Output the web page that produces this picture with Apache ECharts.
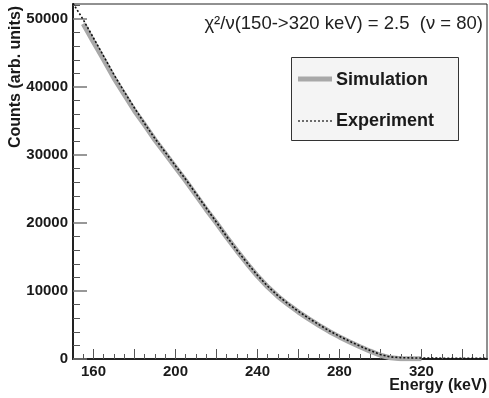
<!DOCTYPE html>
<html>
<head>
<meta charset="utf-8">
<script src="https://cdn.jsdelivr.net/npm/echarts@6/dist/echarts.min.js"></script>
<style>
html,body{margin:0;padding:0;background:#fff;}
#chart{width:489px;height:398px;}
</style>
</head>
<body>
<div id="chart"></div>
<script>
// Experiment (dotted) – energy (keV) and counts
var expEnergy = [150,155,160,165,170,175,180,185,190,195,200,205,210,215,220,225,230,235,240,245,250,255,260,265,270,275,280,285,290,295,300,305,310,315,320,325,330,335,340,345,350,352];
var expCounts = [52300,49900,47200,44500,41800,39300,36900,34600,32400,30400,28400,26400,24300,22200,20100,18000,16000,14100,12300,10700,9300,8100,7000,6000,5050,4150,3350,2600,1900,1250,650,300,200,160,140,130,120,110,110,100,100,100];
// Simulation (thick grey)
var simEnergy = [155,160,165,170,175,180,185,190,195,200,205,210,215,220,225,230,235,240,245,250,255,260,265,270,275,280,285,290,295,300,305,310,315,320];
var simCounts = [49300,46600,44000,41300,38900,36500,34400,32200,30200,28200,26200,24100,22000,20000,17900,15900,14000,12200,10600,9200,8000,6900,5900,4950,4050,3250,2500,1800,1150,550,170,50,30,20];

var xLabelValues = [160,200,240,280,320];
var xMajorTicks = [160,180,200,220,240,260,280,300,320,340];
var yLabelValues = [0,10000,20000,30000,40000,50000];

var xMinorTicks = [];
for (var v = 155; v <= 350; v += 5) { if (xMajorTicks.indexOf(v) < 0) xMinorTicks.push(v); }
var yMinorTicks = [];
for (var w = 2000; w <= 52000; w += 2000) { if (w % 10000 !== 0) yMinorTicks.push(w); }

function pairs(xs, ys){ return xs.map(function(x,i){ return [x, ys[i]]; }); }
function plain(v){ return String(v); }

var FONT = '"Liberation Sans", Arial, Helvetica, sans-serif';
var chart = echarts.init(document.getElementById('chart'), null, {renderer:'canvas'});
var X_MIN = 150, X_MAX = 352, Y_MIN = 0, Y_MAX = 52200;

chart.setOption({
  animation: false,
  backgroundColor: '#fff',
  grid: {left: 73, right: 2, top: 4, bottom: 39, show: true, borderColor: '#222', borderWidth: 1, backgroundColor: 'transparent'},
  xAxis: [{
    type: 'value', min: X_MIN, max: X_MAX,
    axisLine: {show: true, onZero: false, lineStyle: {color: '#222', width: 2}},
    axisTick: {show: true, inside: true, length: 10, customValues: xMajorTicks, lineStyle: {color: '#555', width: 1}},
    axisLabel: {show: true, customValues: xLabelValues, formatter: plain, margin: 5, color: '#1a1a1a', fontFamily: FONT, fontWeight: 'bold', fontSize: 15},
    splitLine: {show: false}
  }, {
    type: 'value', min: X_MIN, max: X_MAX, position: 'bottom',
    axisLine: {show: false},
    axisTick: {show: true, inside: true, length: 5, customValues: xMinorTicks, lineStyle: {color: '#555', width: 1}},
    axisLabel: {show: false},
    splitLine: {show: false}
  }],
  yAxis: [{
    type: 'value', min: Y_MIN, max: Y_MAX,
    axisLine: {show: true, onZero: false, lineStyle: {color: '#222', width: 2}},
    axisTick: {show: true, inside: true, length: 14, customValues: yLabelValues, lineStyle: {color: '#777', width: 1.5}},
    axisLabel: {show: true, customValues: yLabelValues, formatter: plain, margin: 5, color: '#1a1a1a', fontFamily: FONT, fontWeight: 'bold', fontSize: 15},
    splitLine: {show: false}
  }, {
    type: 'value', min: Y_MIN, max: Y_MAX, position: 'left',
    axisLine: {show: false},
    axisTick: {show: true, inside: true, length: 7, customValues: yMinorTicks, lineStyle: {color: '#555', width: 1}},
    axisLabel: {show: false},
    splitLine: {show: false}
  }],
  series: [{
    name: 'Simulation', type: 'line', xAxisIndex: 0, yAxisIndex: 0,
    data: pairs(simEnergy, simCounts), showSymbol: false, symbol: 'none', clip: true,
    lineStyle: {color: '#a8a8a8', width: 5}, z: 2
  }, {
    name: 'Experiment', type: 'line', xAxisIndex: 0, yAxisIndex: 0,
    data: pairs(expEnergy, expCounts), showSymbol: false, symbol: 'none', clip: true,
    lineStyle: {color: '#111', width: 1.6, type: [2, 2]}, z: 3
  }],
  graphic: [
    {type: 'text', x: 16, y: 77, rotation: Math.PI/2,
     style: {text: 'Counts (arb. units)', fill: '#1a1a1a', font: 'bold 16px ' + FONT, align: 'center', verticalAlign: 'middle'}},
    {type: 'text', x: 487, y: 386,
     style: {text: 'Energy (keV)', fill: '#1a1a1a', font: 'bold 16px ' + FONT, align: 'right', verticalAlign: 'middle'}},
    {type: 'text', x: 483, y: 24,
     style: {text: 'χ²/ν(150->320 keV) = 2.5  (ν = 80)', fill: '#222', font: '18.5px ' + FONT, align: 'right', verticalAlign: 'middle'}},
    {type: 'rect', shape: {x: 291.5, y: 57.5, width: 167, height: 83},
     style: {fill: '#f4f4f4', stroke: '#333', lineWidth: 1}},
    {type: 'line', shape: {x1: 298, y1: 79, x2: 332, y2: 79},
     style: {stroke: '#a8a8a8', lineWidth: 5}},
    {type: 'text', x: 336, y: 80,
     style: {text: 'Simulation', fill: '#1a1a1a', font: 'bold 18px ' + FONT, align: 'left', verticalAlign: 'middle'}},
    {type: 'line', shape: {x1: 298, y1: 121, x2: 332, y2: 121},
     style: {stroke: '#111', lineWidth: 1.2, lineDash: [2, 2]}},
    {type: 'text', x: 336, y: 121,
     style: {text: 'Experiment', fill: '#1a1a1a', font: 'bold 18px ' + FONT, align: 'left', verticalAlign: 'middle'}}
  ]
});
</script>
</body>
</html>
